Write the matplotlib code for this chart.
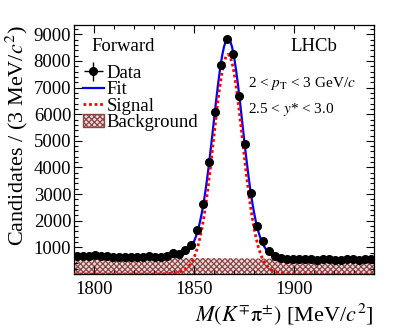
import numpy as np
import matplotlib
matplotlib.use("Agg")
import matplotlib.pyplot as plt
from matplotlib.ticker import MultipleLocator, FuncFormatter
from matplotlib.patches import Patch
from matplotlib.lines import Line2D

plt.rcParams['font.family'] = ['Liberation Serif', 'DejaVu Serif']
plt.rcParams['mathtext.fontset'] = 'stix'
plt.rcParams['hatch.linewidth'] = 0.9

# ---- data (bin centres, 3 MeV bins) ----
mass_centres = np.arange(1791.5, 1940, 3.0)
counts = [680, 670, 680, 700, 680, 665, 645, 620, 640, 645,
          620, 635, 675, 645, 655, 660, 790, 750, 890, 1080,
          1670, 2610, 4200, 6080, 7830, 8820, 8270, 6670, 4880, 3030,
          1810, 1240, 880, 680, 590, 560, 555, 550, 555, 550,
          540, 550, 555, 540, 530, 545, 550, 540, 550, 545]

# ---- fit components ----
sig_x = [1790, 1817, 1827, 1833, 1837, 1839, 1841, 1843, 1845, 1847, 1848, 1849, 1850,
         1851, 1852, 1853, 1854, 1855, 1856, 1857, 1858, 1859, 1860, 1861, 1862,
         1863, 1864, 1865, 1866, 1867, 1868, 1869, 1870, 1871, 1872, 1873, 1874,
         1875, 1876, 1877, 1878, 1879, 1880, 1881, 1882, 1883, 1884, 1885, 1886,
         1887, 1889, 1891, 1893, 1895, 1897, 1901, 1907, 1917, 1940]
sig_y = [0, 0, 1, 5, 16, 27, 46, 81, 144, 260, 348, 465, 617,
         812, 1058, 1362, 1729, 2165, 2667, 3234, 3855, 4516, 5196, 5870, 6511,
         7090, 7575, 7942, 8172, 8250, 8172, 7942, 7575, 7090, 6511, 5870, 5196,
         4516, 3855, 3234, 2667, 2165, 1729, 1362, 1058, 812, 617, 465, 348,
         260, 144, 81, 46, 27, 16, 5, 1, 0, 0]
bkg_x = [1790, 1940]
bkg_y = [640, 545]

xlim = (1790, 1940)
ylim = (0, 9350)

fig = plt.figure(figsize=(4.15, 3.30), dpi=100)
ax = fig.add_axes([74/415, 1-274/330, 300/415, 249/330])

sx = np.array(sig_x, float)
sy = np.array(sig_y, float)
bk = np.interp(sx, bkg_x, bkg_y)
fit = sy + bk

hatch_col = '#8a4545'
hatch_face = '#ecdcdc'
ax.fill_between(bkg_x, 0, bkg_y, facecolor=hatch_face, edgecolor=hatch_col,
                hatch='xxxxxx', linewidth=0, zorder=1)
ax.plot(sx, fit, color='#0000ff', lw=1.6, zorder=3)
ax.plot(sx, sy, color='#ff0000', lw=2.0, ls=(0, (1, 1)), zorder=4)

cnt = np.array(counts, float)
eb = ax.errorbar(mass_centres, cnt, xerr=1.5, yerr=np.sqrt(cnt), fmt='o',
                 color='black', ms=5.5, elinewidth=1.0, capsize=0, zorder=5)

ax.set_xlim(*xlim)
ax.set_ylim(*ylim)

ax.xaxis.set_major_locator(MultipleLocator(50))
ax.xaxis.set_minor_locator(MultipleLocator(10))
ax.yaxis.set_major_locator(MultipleLocator(1000))
ax.yaxis.set_minor_locator(MultipleLocator(200))
ax.yaxis.set_major_formatter(FuncFormatter(lambda v, p: '' if v <= 0 else f'{int(v)}'))

ax.tick_params(which='both', direction='in', top=True, right=True, width=0.8,
               labelsize=13.5)
ax.tick_params(which='major', length=6)
ax.tick_params(which='minor', length=3)
ax.tick_params(axis='y', pad=2)
ax.tick_params(axis='x', pad=5)
for s in ax.spines.values():
    s.set_linewidth(0.9)

ax.set_ylabel('Candidates / (3 MeV/$c^2$)', fontsize=16, loc='top', labelpad=3)
ax.set_xlabel(r'$M(K^{\mp}\mathrm{\pi}^{\pm})$ [MeV/$c^2$]', fontsize=16,
              loc='right', labelpad=2)

ax.text(0.057, 0.912, 'Forward', transform=ax.transAxes, fontsize=13.5,
        va='center', ha='left')
ax.text(0.72, 0.912, 'LHCb', transform=ax.transAxes, fontsize=13.5,
        va='center', ha='left')
ax.text(0.58, 0.767, r'2 < $p_{\mathrm{T}}$ < 3 GeV/$c$', transform=ax.transAxes,
        fontsize=11, va='center', ha='left')
ax.text(0.58, 0.659, r'2.5 < $y$* < 3.0', transform=ax.transAxes,
        fontsize=11, va='center', ha='left')

h_fit = Line2D([], [], color='#0000ff', lw=1.6)
h_sig = Line2D([], [], color='#ff0000', lw=2.0, ls=(0, (1, 1)))
h_bkg = Patch(facecolor=hatch_face, edgecolor=hatch_col, hatch='xxxxxx', lw=1.0)
leg = ax.legend([eb, h_fit, h_sig, h_bkg], ['Data', 'Fit', 'Signal', 'Background'],
                loc='upper left', bbox_to_anchor=(0.03, 0.84), frameon=False,
                fontsize=13.5, handlelength=1.1, handletextpad=0.15,
                labelspacing=-0.04, borderpad=0, borderaxespad=0)

fig.savefig('out.png', dpi=100)
